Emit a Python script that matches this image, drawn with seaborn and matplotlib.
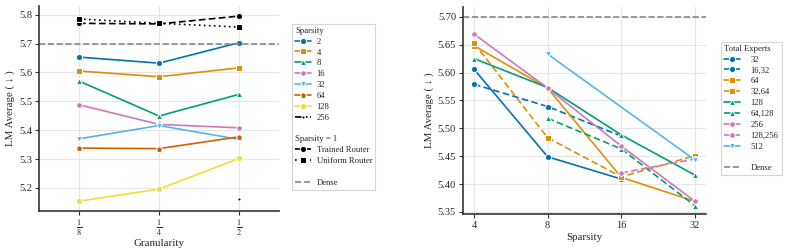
import numpy as np
import pandas as pd
import matplotlib
matplotlib.use("Agg")
import matplotlib.pyplot as plt
import matplotlib.transforms as mtransforms
from matplotlib.lines import Line2D
import seaborn as sns

# -- data: left panel (granularity) --
granularity = [1 / 8, 1 / 4, 1 / 2]
gran_labels = [r"$\frac{1}{8}$", r"$\frac{1}{4}$", r"$\frac{1}{2}$"]
sp2 = [5.653, 5.632, 5.703]
sp4 = [5.605, 5.585, 5.616]
sp8 = [5.570, 5.449, 5.524]
sp16 = [5.488, 5.420, 5.408]
sp32 = [5.370, 5.416, 5.368]
sp64 = [5.338, 5.336, 5.377]
sp128 = [5.154, 5.196, 5.302]
sp256 = [np.nan, np.nan, 5.162]
trained_router = [5.770, 5.768, 5.795]
uniform_router = [5.785, 5.770, 5.757]

# -- data: right panel (sparsity) --
sparsity = [4, 8, 16, 32]
te32 = [5.606, 5.449, 5.409, np.nan]
te16_32 = [5.579, 5.539, 5.486, np.nan]
te64 = [5.648, 5.572, 5.412, 5.369]
te32_64 = [5.653, 5.483, 5.413, 5.451]
te128 = [5.625, 5.573, 5.488, 5.416]
te64_128 = [np.nan, 5.518, 5.463, 5.361]
te256 = [5.669, 5.572, 5.468, 5.369]
te128_256 = [np.nan, np.nan, 5.420, 5.445]
te512 = [np.nan, 5.633, np.nan, 5.443]

dense = 5.70

cb = sns.color_palette("colorblind")
blue, orange, green, verm, pink, lblue, yellow = cb[0], cb[1], cb[2], cb[3], cb[4], cb[9], cb[8]

sns.set_theme(style="whitegrid")
plt.rcParams["font.family"] = ["Liberation Serif", "DejaVu Serif"]
plt.rcParams["mathtext.fontset"] = "stix"
plt.rcParams["grid.color"] = "#e6e6e6"


def long_frame(xs, series):
    rows = []
    for name, vals in series.items():
        for x, v in zip(xs, vals):
            if not np.isnan(v):
                rows.append({"x": x, "y": v, "name": name})
    return pd.DataFrame(rows)


fig = plt.figure(figsize=(7.98, 2.5), dpi=100)
ax1 = fig.add_axes([0.0489, 0.156, 0.3008, 0.82])
ax2 = fig.add_axes([0.5802, 0.144, 0.3045, 0.828])

# ---- left panel ----
left_series = {"2": sp2, "4": sp4, "8": sp8, "16": sp16, "32": sp32,
               "64": sp64, "128": sp128, "256": sp256,
               "Trained Router": trained_router, "Uniform Router": uniform_router}
left_colors = {"2": blue, "4": orange, "8": green, "16": pink, "32": lblue,
               "64": verm, "128": yellow, "256": "black",
               "Trained Router": "black", "Uniform Router": "black"}
left_markers = {"2": "o", "4": "s", "8": "^", "16": "h", "32": "v", "64": "p",
                "128": "o", "256": ".", "Trained Router": "o", "Uniform Router": "s"}
left_dashes = {k: "" for k in left_series}
left_dashes["256"] = (5, 1.5, 1, 1.5)
left_dashes["Trained Router"] = (4, 2)
left_dashes["Uniform Router"] = (1, 2)

df_left = long_frame(granularity, left_series)
sns.lineplot(data=df_left, x="x", y="y", hue="name", style="name",
             hue_order=list(left_series), style_order=list(left_series),
             palette=left_colors, markers=left_markers, dashes=left_dashes,
             markersize=4.5, linewidth=1.2, ax=ax1)
ax1.axhline(dense, color="#888888", ls="--", lw=1.2, label="Dense")

# ---- right panel ----
right_series = {"32": te32, "16,32": te16_32, "64": te64, "32,64": te32_64,
                "128": te128, "64,128": te64_128, "256": te256,
                "128,256": te128_256, "512": te512}
right_colors = {"32": blue, "16,32": blue, "64": orange, "32,64": orange,
                "128": green, "64,128": green, "256": pink, "128,256": pink,
                "512": lblue}
right_markers = {"32": "o", "16,32": "o", "64": "s", "32,64": "s", "128": "^",
                 "64,128": "^", "256": "h", "128,256": "h", "512": "v"}
right_dashes = {k: ("" if "," not in k else (4, 2)) for k in right_series}

df_right = long_frame(sparsity, right_series)
sns.lineplot(data=df_right, x="x", y="y", hue="name", style="name",
             hue_order=list(right_series), style_order=list(right_series),
             palette=right_colors, markers=right_markers, dashes=right_dashes,
             markersize=4.5, linewidth=1.2, ax=ax2)
ax2.axhline(dense, color="#888888", ls="--", lw=1.2)

# ---- axes styling ----
for ax in (ax1, ax2):
    ax.set_xscale("log", base=2)
    ax.minorticks_off()
    sns.despine(ax=ax)
    for s in ("left", "bottom"):
        ax.spines[s].set_color("#333333")
        ax.spines[s].set_linewidth(1.2)
    ax.tick_params(axis="both", labelsize=7.5, length=3, width=0.8,
                   color="#333333", pad=2, bottom=True, left=True)
    ax.set_ylabel("LM Average ( ↓ )", fontsize=7.8, labelpad=3)
    ax.grid(True, lw=0.8)

ax1.set_xlim(2 ** -3.5, 2 ** -0.5)
ax1.set_xticks(granularity)
ax1.set_xticklabels(gran_labels, fontsize=8.5)
ax1.tick_params(axis="x", pad=1.5)
ax1.set_xlabel("Granularity", fontsize=7.8, labelpad=1)
ax1.set_ylim(5.12, 5.83)
ax1.set_yticks(np.arange(5.2, 5.81, 0.1))
ax1.set_yticklabels([f"{v:.1f}" for v in np.arange(5.2, 5.81, 0.1)])

ax2.set_xlim(4 * 2 ** (-11 / 74), 32 * 2 ** (11 / 74))
ax2.set_xticks(sparsity)
ax2.set_xticklabels([str(s) for s in sparsity])
ax2.set_xlabel("Sparsity", fontsize=7.8, labelpad=2)
ax2.set_ylim(5.3464, 5.7174)
ax2.set_yticks(np.arange(5.35, 5.701, 0.05))
ax2.set_yticklabels([f"{v:.2f}" for v in np.arange(5.35, 5.701, 0.05)])


# ---- legends ----
def seaborn_handles(ax):
    leg = ax.get_legend()
    hs = list(leg.legend_handles)
    ls = [t.get_text() for t in leg.texts]
    leg.remove()
    return hs, ls


blank = Line2D([], [], color="none")
dense_h = Line2D([], [], color="#888888", ls="--", lw=1.2)
leg_fs = 6.2
hl, htp = 1.9, 0.6

hs, ls = seaborn_handles(ax1)
handles = hs[:8] + [blank, blank] + hs[8:10] + [blank, dense_h]
labels = ls[:8] + ["", "Sparsity = 1"] + ls[8:10] + ["", "Dense"]
leg1 = ax1.legend(handles, labels, title="Sparsity", loc="upper left",
                  bbox_to_anchor=(0.366, 0.905), bbox_transform=fig.transFigure,
                  fontsize=leg_fs, title_fontsize=leg_fs, labelspacing=0.33,
                  handlelength=hl, handletextpad=htp, borderpad=0.35,
                  borderaxespad=0, frameon=True, fancybox=False,
                  edgecolor="#cccccc", alignment="left")
leg1.get_frame().set_linewidth(0.8)
t = leg1.get_texts()[9]
shift = (hl + htp) * leg_fs / 72
t.set_transform(t.get_transform() + mtransforms.ScaledTranslation(-shift, 0, fig.dpi_scale_trans))

hs, ls = seaborn_handles(ax2)
handles = hs + [blank, dense_h]
labels = ls + ["", "Dense"]
leg2 = ax2.legend(handles, labels, title="Total Experts", loc="upper left",
                  bbox_to_anchor=(0.9035, 0.833), bbox_transform=fig.transFigure,
                  fontsize=leg_fs, title_fontsize=leg_fs, labelspacing=0.33,
                  handlelength=hl, handletextpad=htp + 0.6, borderpad=0.35,
                  borderaxespad=0, frameon=True, fancybox=False,
                  edgecolor="#cccccc", alignment="left")
leg2.get_frame().set_linewidth(0.8)

fig.savefig("out.png", dpi=100)
